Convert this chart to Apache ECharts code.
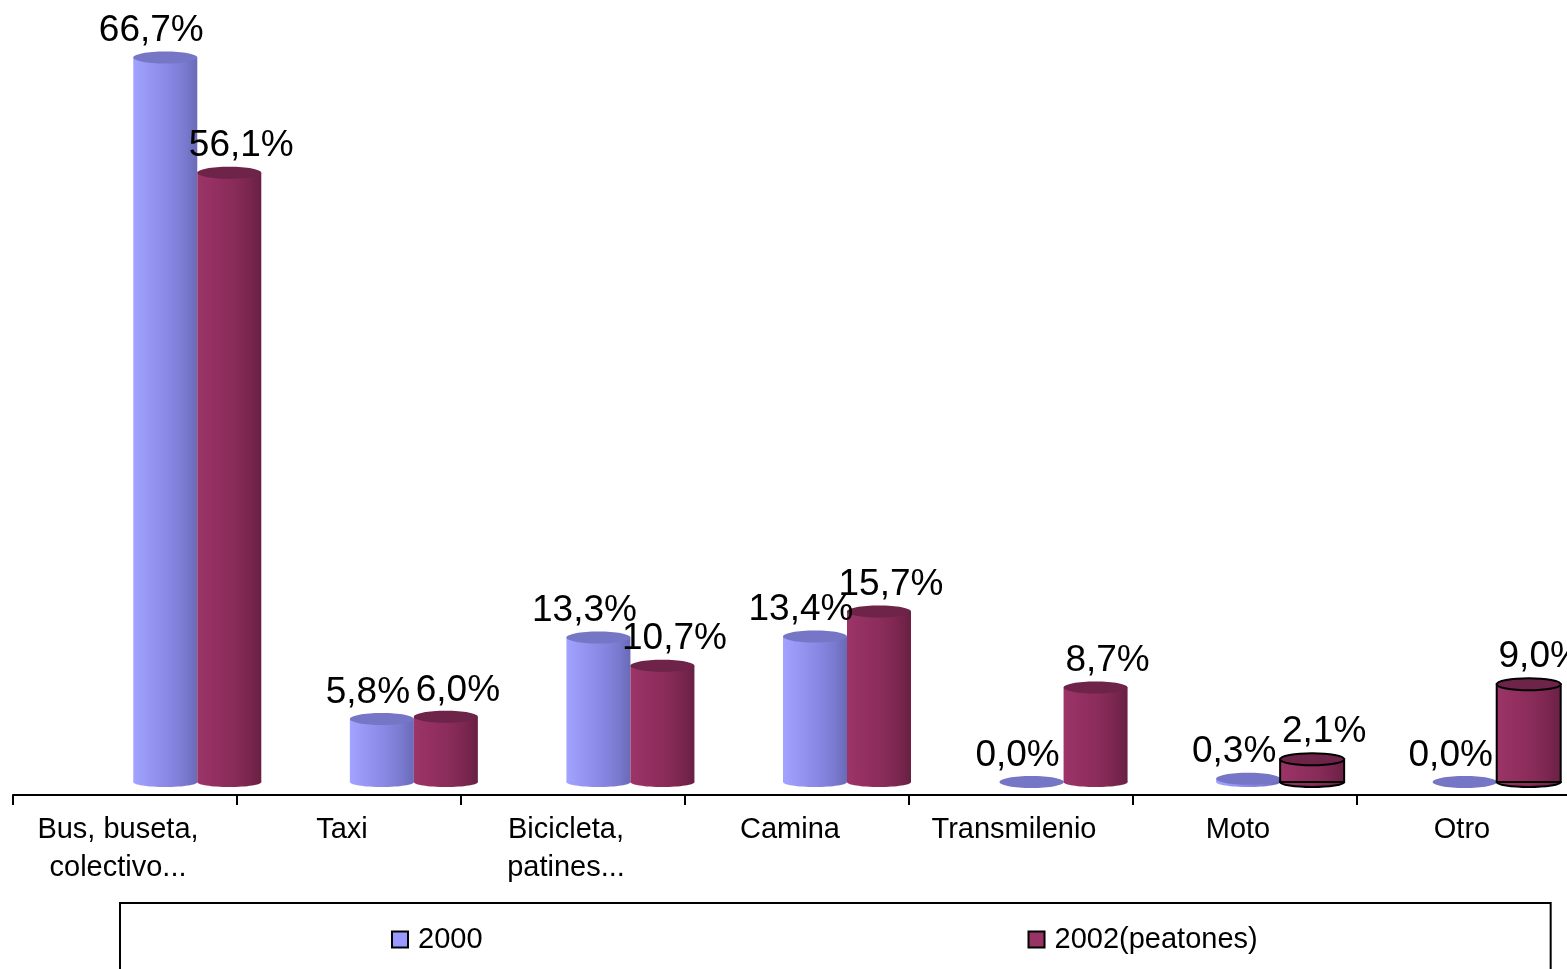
<!DOCTYPE html>
<html>
<head>
<meta charset="utf-8">
<script src="https://cdn.jsdelivr.net/npm/echarts@6/dist/echarts.min.js"></script>
<style>
html, body { margin: 0; padding: 0; background: #fff; }
#chart { width: 1567px; height: 969px; }
</style>
</head>
<body>
<div id="chart"></div>
<script>
const categories = ['Bus, buseta,\ncolectivo...', 'Taxi', 'Bicicleta,\npatines...', 'Camina', 'Transmilenio', 'Moto', 'Otro'];
const values2000 = [66.7, 5.8, 13.3, 13.4, 0.0, 0.3, 0.0];
const values2002 = [56.1, 6.0, 10.7, 15.7, 8.7, 2.1, 9.0];
const seriesNames = ['2000', '2002(peatones)'];
// bars that Excel shows as selected (black outline)
const outlined2002 = [5, 6];

const FONT = "'Liberation Sans', Arial, sans-serif";

const fmt = v => v.toFixed(1).replace('.', ',') + '%';

const blueSide = new echarts.graphic.LinearGradient(0, 0, 1, 0, [
  { offset: 0, color: '#a2a2ff' },
  { offset: 0.55, color: '#8888e4' },
  { offset: 0.8, color: '#7a7ad0' },
  { offset: 1, color: '#6a6ab8' }
]);
const redSide = new echarts.graphic.LinearGradient(0, 0, 1, 0, [
  { offset: 0, color: '#9c3468' },
  { offset: 0.55, color: '#8a2c5a' },
  { offset: 0.8, color: '#7a264f' },
  { offset: 1, color: '#682043' }
]);

const cylinder = (offsetX, labelDx, side, cap, outlined) => (params, api) => {
  const idx = api.value(0);
  const val = api.value(1);
  const top = api.coord([idx, val]);
  const base = api.coord([idx, 0]);
  const w = 64;
  const cx = top[0] + offsetX;
  const sel = outlined.indexOf(idx) >= 0;
  const stroke = sel ? { stroke: '#000', lineWidth: 2 } : {};
  return {
    type: 'group',
    children: [
      {
        type: 'ellipse',
        shape: { cx: cx, cy: base[1], rx: w / 2, ry: 5 },
        style: Object.assign({ fill: side }, stroke)
      },
      {
        type: 'rect',
        shape: { x: cx - w / 2, y: top[1], width: w, height: base[1] - top[1] },
        style: Object.assign({ fill: side }, stroke),
        textContent: {
          style: { text: fmt(val), fontSize: 37, fontFamily: FONT, fill: '#000' }
        },
        textConfig: { position: 'top', distance: 8, offset: [labelDx, 0] }
      },
      {
        type: 'ellipse',
        shape: { cx: cx, cy: top[1], rx: w / 2, ry: 6 },
        style: Object.assign({ fill: cap }, stroke)
      }
    ]
  };
};

const chart = echarts.init(document.getElementById('chart'));
chart.setOption({
  animation: false,
  backgroundColor: '#fff',
  textStyle: { fontFamily: FONT },
  grid: [
    { left: 89, width: 1516, top: 0, bottom: 187, outerBoundsMode: 'none' },
    { left: 13, width: 1568, top: 0, bottom: 174, outerBoundsMode: 'none' }
  ],
  xAxis: [
    { gridIndex: 0, type: 'category', data: categories, show: false },
    {
      gridIndex: 1, type: 'category', data: categories,
      axisLine: { show: true, lineStyle: { color: '#000', width: 2 } },
      axisTick: { show: true, length: 10, interval: 0, lineStyle: { color: '#000', width: 2 } },
      axisLabel: {
        color: '#000', fontSize: 29, lineHeight: 38, margin: 16, fontFamily: FONT,
        interval: 0, padding: [0, 14, 0, 0]
      }
    }
  ],
  yAxis: [
    { gridIndex: 0, type: 'value', min: 0, max: 72, show: false },
    { gridIndex: 1, type: 'value', min: 0, max: 1, show: false }
  ],
  legend: {
    left: 120,
    top: 903,
    padding: [22, 293, 40, 271],
    itemGap: 545,
    itemWidth: 16,
    itemHeight: 16,
    borderColor: '#000',
    borderWidth: 2,
    icon: 'rect',
    textStyle: { fontSize: 29, color: '#000', fontFamily: FONT, padding: [0, 0, 0, 5] },
    data: [
      { name: seriesNames[0], itemStyle: { color: '#9999ff', borderColor: '#000', borderWidth: 2 } },
      { name: seriesNames[1], itemStyle: { color: '#993366', borderColor: '#000', borderWidth: 2 } }
    ]
  },
  series: [
    {
      name: seriesNames[0],
      type: 'custom',
      xAxisIndex: 0, yAxisIndex: 0,
      itemStyle: { color: '#9999ff' },
      renderItem: cylinder(-32, -14, blueSide, '#7676c6', []),
      data: values2000.map((v, i) => [i, v])
    },
    {
      name: seriesNames[1],
      type: 'custom',
      xAxisIndex: 0, yAxisIndex: 0,
      itemStyle: { color: '#993366' },
      renderItem: cylinder(32, 12, redSide, '#6e2348', outlined2002),
      data: values2002.map((v, i) => [i, v])
    }
  ]
});
</script>
</body>
</html>
